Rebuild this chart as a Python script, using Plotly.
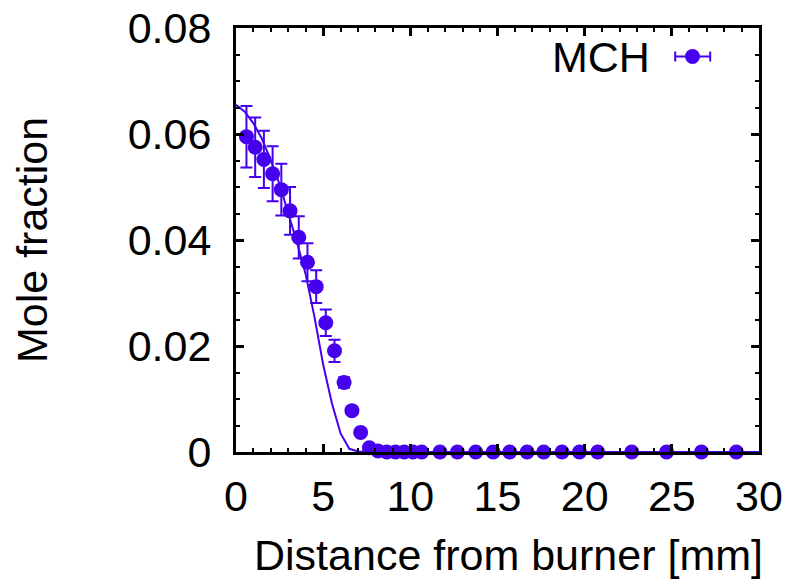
import plotly.graph_objects as go

# ---- data ----
x_exp = [0.6, 1.1, 1.6, 2.1, 2.6, 3.1, 3.6, 4.1, 4.6, 5.15, 5.65, 6.2, 6.65, 7.15,
         7.65, 8.15, 8.65, 9.15, 9.65, 10.15, 10.65, 11.7, 12.7, 13.75, 14.75,
         15.7, 16.7, 17.65, 18.7, 19.7, 20.75, 22.7, 24.7, 26.7, 28.7]
y_exp = [0.0595, 0.0575, 0.0552, 0.0525, 0.0495, 0.0455, 0.0405, 0.0358, 0.0312,
         0.0244, 0.0191, 0.0131, 0.0078, 0.0037, 0.0008, 0.0002, 0.0, 0.0, 0.0,
         0.0, 0.0, 0.0, 0.0, 0.0, 0.0, 0.0, 0.0, 0.0, 0.0, 0.0, 0.0, 0.0, 0.0,
         0.0, 0.0]
err_exp = [0.0058, 0.0056, 0.0054, 0.0052, 0.0049, 0.0045, 0.0040, 0.0036, 0.0031,
           0.0025, 0.0021, 0.0010, 0.0006, 0.0003, 0.0001, 0.0, 0.0, 0.0, 0.0,
           0.0, 0.0, 0.0, 0.0, 0.0, 0.0, 0.0, 0.0, 0.0, 0.0, 0.0, 0.0, 0.0, 0.0,
           0.0, 0.0]

x_model = [0.0, 0.5, 1.0, 1.5, 2.0, 2.5, 3.0, 3.5, 4.0, 4.5, 5.0, 5.5, 6.0, 6.5,
           7.0, 7.5, 8.0, 10.0, 15.0, 20.0, 25.0, 30.0]
y_model = [0.0655, 0.0642, 0.0620, 0.0590, 0.0550, 0.0505, 0.0450, 0.0395, 0.0335,
           0.0255, 0.0165, 0.0092, 0.0035, 0.0006, 0.0001, 0.0, 0.0, 0.0, 0.0,
           0.0, 0.0, 0.0]

series_name = "MCH"
x_title = "Distance from burner [mm]"
y_title = "Mole fraction"

COL = "#4600ee"
FONT = "Liberation Sans, Arial, sans-serif"
FS = 43

fig = go.Figure()
fig.add_trace(go.Scatter(
    x=x_model, y=y_model, mode="lines",
    line=dict(color=COL, width=2), showlegend=False, cliponaxis=False))
fig.add_trace(go.Scatter(
    x=x_exp, y=y_exp, mode="markers", name=series_name,
    marker=dict(color=COL, size=15, line=dict(width=0)),
    error_y=dict(type="data", array=err_exp, visible=True, color=COL,
                 thickness=2, width=6),
    showlegend=False, cliponaxis=False))

axis_common = dict(
    showline=True, linecolor="black", linewidth=3, mirror="allticks",
    ticks="inside", ticklen=8, tickwidth=3, tickcolor="black",
    showgrid=False, zeroline=False, automargin=False,
    tickfont=dict(family=FONT, size=FS, color="black"),
)

fig.update_xaxes(range=[0, 30], tick0=0, dtick=5, ticklabelstandoff=4,
                 minor=dict(ticks="inside", ticklen=4, tickwidth=2,
                            tickcolor="black", dtick=1, showgrid=False),
                 **axis_common)
fig.update_yaxes(range=[0, 0.08], tick0=0, dtick=0.02, ticklabelstandoff=13,
                 minor=dict(ticks="inside", ticklen=4, tickwidth=2,
                            tickcolor="black", dtick=0.005, showgrid=False),
                 **axis_common)

# legend drawn manually (gnuplot-style key)
leg_y = 55
shapes = [
    dict(type="line", xref="paper", yref="paper", xsizemode="pixel", ysizemode="pixel",
         xanchor=1, yanchor=1, x0=676.7 - 760.5, x1=711.7 - 760.5,
         y0=26.5 - leg_y, y1=26.5 - leg_y, line=dict(color=COL, width=2)),
    dict(type="line", xref="paper", yref="paper", xsizemode="pixel", ysizemode="pixel",
         xanchor=1, yanchor=1, x0=676.7 - 760.5, x1=676.7 - 760.5,
         y0=26.5 - leg_y - 5, y1=26.5 - leg_y + 5, line=dict(color=COL, width=2)),
    dict(type="line", xref="paper", yref="paper", xsizemode="pixel", ysizemode="pixel",
         xanchor=1, yanchor=1, x0=711.7 - 760.5, x1=711.7 - 760.5,
         y0=26.5 - leg_y - 5, y1=26.5 - leg_y + 5, line=dict(color=COL, width=2)),
    dict(type="circle", xref="paper", yref="paper", xsizemode="pixel", ysizemode="pixel",
         xanchor=1, yanchor=1, x0=694 - 760.5 - 7.5, x1=694 - 760.5 + 7.5,
         y0=26.5 - leg_y - 7.5, y1=26.5 - leg_y + 7.5,
         fillcolor=COL, line=dict(width=0)),
]

annotations = [
    dict(text=series_name, xref="paper", yref="paper", x=1, y=1,
         xshift=653 - 760.5, yshift=26.5 - leg_y, xanchor="right", yanchor="middle",
         showarrow=False, font=dict(family=FONT, size=FS, color="black")),
    dict(text=x_title, xref="paper", yref="paper", x=0.5, y=0,
         xshift=11, yshift=-(556 - 453.5), xanchor="center", yanchor="middle",
         showarrow=False, font=dict(family=FONT, size=FS, color="black")),
    dict(text=y_title, xref="paper", yref="paper", x=0, y=0.5,
         xshift=-(236 - 32), yshift=0, xanchor="center", yanchor="middle",
         textangle=-90, showarrow=False,
         font=dict(family=FONT, size=FS, color="black")),
]

fig.update_layout(
    width=794, height=583,
    margin=dict(l=236, r=35, t=28, b=131),
    paper_bgcolor="white", plot_bgcolor="white",
    showlegend=False,
    shapes=shapes, annotations=annotations,
    font=dict(family=FONT, size=FS, color="black"),
)

fig.write_html("out.html")
